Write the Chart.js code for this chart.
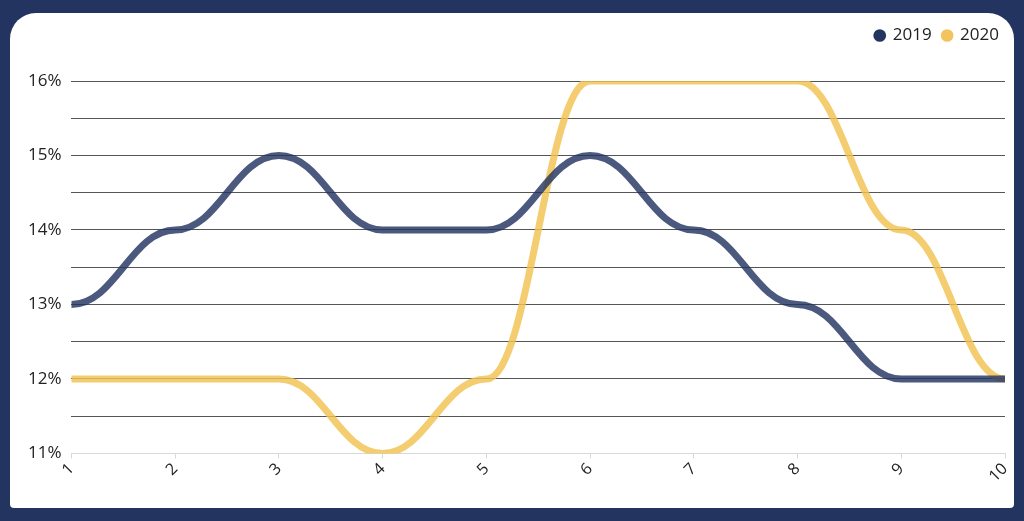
<!DOCTYPE html>
<html>
<head>
<meta charset="utf-8">
<script src="https://cdn.jsdelivr.net/npm/chart.js@4"></script>
<style>
  html, body { margin: 0; padding: 0; }
  body { width: 1024px; height: 521px; background: #233461; overflow: hidden; position: relative; }
  #panel {
    position: absolute; left: 10px; top: 13px; width: 1004px; height: 495px;
    background: #fff; border-radius: 26px 26px 4px 4px;
  }
  #wrap { position: absolute; left: 0; top: 0; width: 1004px; height: 495px; }
</style>
</head>
<body>
<div id="panel"><div id="wrap"><canvas id="myChart"></canvas></div></div>
<script>
var categories = ["1","2","3","4","5","6","7","8","9","10"];
var values2019 = [13,14,15,14,14,15,14,13,12,12];
var values2020 = [12,12,12,11,12,16,16,16,14,12];
var seriesNames = ["2019","2020"];
var legendColors = ["#243461","#f3c45e"];

// every point gets a flat tangent, like the source's smoothed lines
var flatCurves = {
  id: "flatCurves",
  beforeDatasetDraw: function(chart, args) {
    var meta = args.meta;
    var line = meta.dataset;
    if (!line) return;
    line.updateControlPoints(chart.chartArea);
    var pts = meta.data;
    for (var i = 0; i < pts.length; i++) {
      var p = pts[i];
      var prev = pts[i-1], next = pts[i+1];
      var k = 0.42;
      p.cp1x = prev ? p.x - (p.x - prev.x) * k : p.x;
      p.cp1y = p.y;
      p.cp2x = next ? p.x + (next.x - p.x) * k : p.x;
      p.cp2y = p.y;
    }
  }
};

// more room under the legend, and push it a bit to the right
var legendGap = {
  id: "legendGap",
  beforeInit: function(chart) {
    var fit = chart.legend.fit;
    chart.legend.fit = function() {
      fit.bind(chart.legend)();
      this.height += 27;
    };
  },
  afterLayout: function(chart) {
    chart.legend.left += 5;
    chart.legend.right += 5;
  }
};

var myChart = new Chart("myChart", {
  type: "line",
  data: {
    labels: categories,
    datasets: [{
      label: seriesNames[0],
      data: values2019,
      borderColor: "rgba(36,52,97,0.82)",
      backgroundColor: legendColors[0],
      borderWidth: 7,
      tension: 0.4,
      pointRadius: 0,
      borderCapStyle: "butt"
    }, {
      label: seriesNames[1],
      data: values2020,
      borderColor: "rgba(243,194,82,0.82)",
      backgroundColor: legendColors[1],
      borderWidth: 7,
      tension: 0.4,
      pointRadius: 0,
      borderCapStyle: "butt"
    }]
  },
  plugins: [flatCurves, legendGap],
  options: {
    responsive: true,
    maintainAspectRatio: false,
    animation: false,
    layout: { padding: { left: 8, right: 9, top: 3, bottom: 21 } },
    plugins: {
      tooltip: { enabled: false },
      legend: {
        position: "top",
        align: "end",
        labels: {
          usePointStyle: true,
          pointStyle: "circle",
          boxWidth: 9,
          boxHeight: 9,
          padding: 11,
          color: "#222",
          font: { family: "Open Sans", size: 17 },
          generateLabels: function(chart) {
            return chart.data.datasets.map(function(ds, i) {
              return {
                text: ds.label,
                fillStyle: legendColors[i],
                strokeStyle: legendColors[i],
                lineWidth: 0,
                pointStyle: "circle",
                fontColor: "#222",
                datasetIndex: i,
                hidden: false
              };
            });
          }
        }
      }
    },
    scales: {
      x: {
        offset: false,
        afterFit: function(scale) { scale.paddingRight = 0; },
        grid: { display: true, drawOnChartArea: false, drawTicks: true, tickLength: 5, color: "#d9d9d9" },
        border: { display: true, color: "#d9d9d9", width: 1 },
        ticks: {
          maxRotation: 45, minRotation: 45, padding: 1,
          color: "#222",
          font: { family: "Open Sans", size: 16 }
        }
      },
      y: {
        min: 11, max: 16,
        grid: {
          drawTicks: false,
          color: function(c) { return c.tick && c.tick.value === 11 ? "#d9d9d9" : "#555"; },
          lineWidth: 1
        },
        border: { display: false },
        ticks: {
          stepSize: 0.5,
          padding: 10,
          color: "#222",
          font: { family: "Open Sans", size: 17 },
          callback: function(v) { return Number.isInteger(v) ? v + "%" : ""; }
        }
      }
    }
  }
});
</script>
</body>
</html>
